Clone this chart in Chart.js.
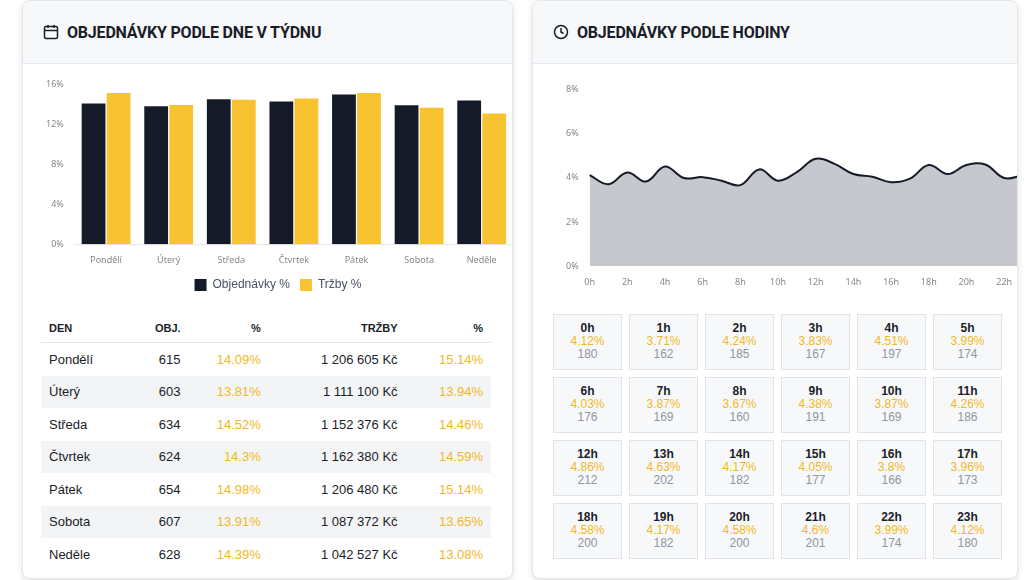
<!DOCTYPE html>
<html><head><meta charset="utf-8">
<script src="https://cdn.jsdelivr.net/npm/chart.js@4"></script>
<style>
body{margin:0;background:#fff;font-family:"Noto Sans",sans-serif;width:1024px;height:580px;overflow:hidden;position:relative}
.card{position:absolute;top:0;height:577px;background:#fff;border:1px solid #e3e6ec;border-radius:8px;box-shadow:0 2px 6px rgba(0,0,0,.12);overflow:hidden}
.hdr{height:62px;background:#f7f8fa;border-bottom:1px solid #e6e9ee;display:flex;align-items:center;padding-left:20px;font-family:"Liberation Sans Narrow","Roboto",sans-serif;font-weight:bold;font-size:16px;color:#1a1d29;letter-spacing:-.2px}
.hdr svg{margin-right:8px}
.cond{font-family:"Liberation Sans Narrow","Roboto",sans-serif}
table{position:absolute;left:18px;top:313px;width:450px;border-collapse:collapse;font-size:12px;color:#1a1d29}
th{font-family:"Liberation Sans Narrow",sans-serif;font-size:11px;font-weight:bold;height:26px;border-bottom:1px solid #e3e6ec}
td{height:30.5px;font-family:"Liberation Sans Narrow",sans-serif;font-size:13px}
tr.s td{background:#f3f4f6}
.y{color:#f2b824}
.grid{position:absolute;left:20px;top:313px;display:grid;grid-template-columns:repeat(6,69px);column-gap:7px;row-gap:7px}
.cell{height:56px;background:#f7f8fa;border:1px solid #e0e3e8;text-align:center;font-family:"Liberation Sans Narrow",sans-serif;font-size:12px;line-height:13px;padding-top:7px;box-sizing:border-box}
.cell b{color:#1a1d29;display:block}
.cell .p{color:#f2b824;display:block}
.cell .n{color:#8f96a3;display:block}
</style></head><body>
<div class="card" style="left:22px;width:489px">
 <div class="hdr"><svg width="16" height="16" viewBox="0 0 16 16" fill="none" stroke="#1a1d29" stroke-width="1.5"><rect x="1.5" y="2.5" width="13" height="12" rx="1.5"/><path d="M1.5 6.5h13M5 1v3M11 1v3"/></svg>OBJEDNÁVKY PODLE DNE V TÝDNU</div>
 <div style="position:absolute;left:20px;top:75px;width:470px;height:225px"><canvas id="c1"></canvas></div>
 <table id="tbl"></table>
</div>
<div class="card" style="left:532px;width:484px">
 <div class="hdr"><svg width="16" height="16" viewBox="0 0 16 16" fill="none" stroke="#1a1d29" stroke-width="1.5"><circle cx="8" cy="8" r="6.5"/><path d="M8 4v4l2.5 1.5"/></svg>OBJEDNÁVKY PODLE HODINY</div>
 <div style="position:absolute;left:30px;top:80px;width:460px;height:210px"><canvas id="c2"></canvas></div>
 <div class="grid" id="grid"></div>
</div>
<script>
const days=["Pondělí","Úterý","Středa","Čtvrtek","Pátek","Sobota","Neděle"];
const dayOrders=[615,603,634,624,654,607,628];
const dayOrdersPct=[14.09,13.81,14.52,14.3,14.98,13.91,14.39];
const dayRevenue=["1 206 605 Kč","1 111 100 Kč","1 152 376 Kč","1 162 380 Kč","1 206 480 Kč","1 087 372 Kč","1 042 527 Kč"];
const dayRevenuePct=[15.14,13.94,14.46,14.59,15.14,13.65,13.08];
const hours=["0h","1h","2h","3h","4h","5h","6h","7h","8h","9h","10h","11h","12h","13h","14h","15h","16h","17h","18h","19h","20h","21h","22h","23h"];
const hourPct=[4.12,3.71,4.24,3.83,4.51,3.99,4.03,3.87,3.67,4.38,3.87,4.26,4.86,4.63,4.17,4.05,3.8,3.96,4.58,4.17,4.58,4.6,3.99,4.12];
const hourOrders=[180,162,185,167,197,174,176,169,160,191,169,186,212,202,182,177,166,173,200,182,200,201,174,180];

const tick={color:"#888",font:{size:9,family:"Noto Sans"}};
new Chart(document.getElementById("c1"),{type:"bar",
 data:{labels:days,datasets:[
  {label:"Objednávky %",data:dayOrdersPct,backgroundColor:"#151a28"},
  {label:"Tržby %",data:dayRevenuePct,backgroundColor:"#f7c331"}]},
 options:{responsive:true,maintainAspectRatio:false,animation:false,
  datasets:{bar:{categoryPercentage:0.8,barPercentage:0.95}},
  plugins:{legend:{position:"bottom",labels:{boxWidth:12,boxHeight:12,color:"#4a5063",font:{size:12}}},tooltip:{enabled:false}},
  scales:{x:{grid:{display:false},border:{color:"#e5e7eb"},ticks:tick},
   y:{min:0,max:16,ticks:{...tick,stepSize:4,callback:v=>v+"%"},grid:{display:false},border:{display:false}}}}});

new Chart(document.getElementById("c2"),{type:"line",
 data:{labels:hours,datasets:[{data:hourPct,borderColor:"#151a28",borderWidth:2,backgroundColor:"rgba(160,163,172,.6)",fill:true,tension:0.4,pointRadius:0}]},
 options:{responsive:true,maintainAspectRatio:false,animation:false,
  plugins:{legend:{display:false},tooltip:{enabled:false}},
  scales:{x:{grid:{display:false},border:{display:false},ticks:{...tick,maxRotation:0}},
   y:{min:0,max:8,ticks:{...tick,stepSize:2,callback:v=>v+"%"},grid:{display:false},border:{display:false}}}}});

let h='<tr><th style="text-align:left;padding-left:8px">DEN</th><th style="text-align:right">OBJ.</th><th style="text-align:right">%</th><th style="text-align:right">TRŽBY</th><th style="text-align:right;padding-right:8px">%</th></tr>';
days.forEach((d,i)=>{h+=`<tr class="${i%2?'s':''}"><td style="padding-left:8px">${d}</td><td style="text-align:right">${dayOrders[i]}</td><td class="y" style="text-align:right">${dayOrdersPct[i]}%</td><td style="text-align:right">${dayRevenue[i]}</td><td class="y" style="text-align:right;padding-right:8px">${dayRevenuePct[i]}%</td></tr>`});
document.getElementById("tbl").innerHTML=h;
let g="";hours.forEach((x,i)=>{g+=`<div class="cell"><b>${x}</b><span class="p">${hourPct[i]}%</span><span class="n">${hourOrders[i]}</span></div>`});
document.getElementById("grid").innerHTML=g;
</script></body></html>
